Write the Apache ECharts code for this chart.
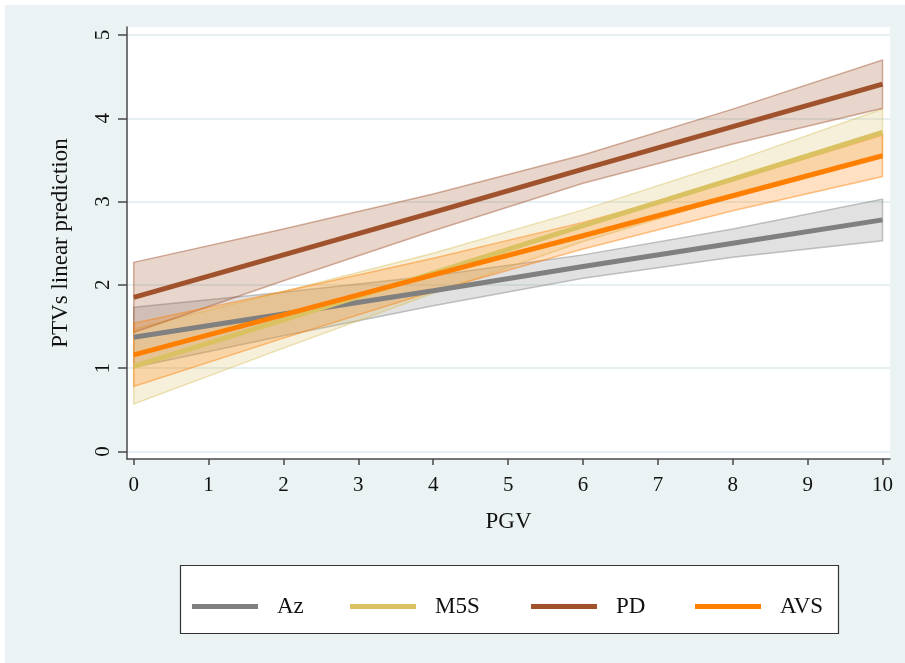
<!DOCTYPE html>
<html>
<head>
<meta charset="utf-8">
<script src="https://cdn.jsdelivr.net/npm/echarts@6/dist/echarts.min.js"></script>
<style>
  html, body { margin: 0; padding: 0; background: #fff; }
  #main { position: absolute; left: 0; top: 0; width: 905px; height: 663px;
          background: #EAF2F3; box-shadow: inset 5px 5px 0 0 #fff; }
</style>
</head>
<body>
<div id="main"></div>
<script>
// ---- data ----
const xVals = [0, 2, 4, 6, 8, 10];
const seriesNames = ['Az', 'M5S', 'PD', 'AVS'];
const xTicks = [0, 1, 2, 3, 4, 5, 6, 7, 8, 9, 10];
const yTicks = [0, 1, 2, 3, 4, 5];

const azFit = [1.37, 1.65, 1.93, 2.22, 2.50, 2.78];
const azLo  = [1.01, 1.39, 1.75, 2.08, 2.33, 2.53];
const azHi  = [1.73, 1.91, 2.11, 2.36, 2.67, 3.03];

const m5sFit = [1.02, 1.58, 2.14, 2.71, 3.27, 3.83];
const m5sLo  = [0.57, 1.24, 1.90, 2.52, 3.06, 3.55];
const m5sHi  = [1.47, 1.92, 2.38, 2.90, 3.48, 4.11];

const pdFit = [1.85, 2.36, 2.87, 3.39, 3.90, 4.41];
const pdLo  = [1.43, 2.05, 2.65, 3.22, 3.69, 4.12];
const pdHi  = [2.27, 2.67, 3.09, 3.56, 4.11, 4.70];

const avsFit = [1.16, 1.64, 2.12, 2.59, 3.07, 3.55];
const avsLo  = [0.78, 1.36, 1.92, 2.43, 2.89, 3.30];
const avsHi  = [1.54, 1.92, 2.32, 2.75, 3.25, 3.80];

// ---- styling ----
const colors = ['#808080', '#DAC263', '#A0522D', '#FF7F00'];
const fits = [azFit, m5sFit, pdFit, avsFit];
const los = [azLo, m5sLo, pdLo, avsLo];
const his = [azHi, m5sHi, pdHi, avsHi];
const FONT = "'Liberation Serif', 'DejaVu Serif', serif";

function rgba(hex, a) {
  const n = parseInt(hex.slice(1), 16);
  return 'rgba(' + ((n >> 16) & 255) + ',' + ((n >> 8) & 255) + ',' + (n & 255) + ',' + a + ')';
}

const series = [];
// confidence bands first
seriesNames.forEach(function (name, k) {
  const lo = los[k], hi = his[k];
  series.push({
    name: name + ' CI',
    type: 'custom',
    z: 2,
    silent: true,
    data: xVals.map(function (x, i) { return [x, lo[i], hi[i]]; }),
    encode: { x: 0, y: [1, 2] },
    renderItem: function (params, api) {
      if (params.dataIndex !== 0) return null;
      const pts = [];
      for (let i = 0; i < xVals.length; i++) pts.push(api.coord([xVals[i], hi[i]]));
      for (let i = xVals.length - 1; i >= 0; i--) pts.push(api.coord([xVals[i], lo[i]]));
      return {
        type: 'polygon',
        shape: { points: pts },
        style: { fill: rgba(colors[k], 0.24), stroke: rgba(colors[k], 0.45), lineWidth: 1.5 }
      };
    }
  });
});
// fitted lines on top
seriesNames.forEach(function (name, k) {
  series.push({
    name: name,
    type: 'line',
    z: 3,
    symbol: 'none',
    silent: true,
    data: xVals.map(function (x, i) { return [x, fits[k][i]]; }),
    lineStyle: { color: colors[k], width: 5 },
    itemStyle: { color: colors[k] }
  });
});

const legendLefts = [192, 350, 531, 695];
const legends = seriesNames.map(function (name, k) {
  return {
    data: [name],
    left: legendLefts[k],
    top: 595,
    padding: 0,
    icon: 'rect',
    itemWidth: 66,
    itemHeight: 5,
    selectedMode: false,
    textStyle: { fontFamily: FONT, fontSize: 23, color: '#111', padding: [3, 0, 0, 14] }
  };
});

const chart = echarts.init(document.getElementById('main'), null, { renderer: 'canvas' });
chart.setOption({
  backgroundColor: 'transparent',
  animation: false,
  color: colors,
  graphic: [{
    type: 'rect',
    z: -1,
    shape: { x: 180.5, y: 565.5, width: 658, height: 68 },
    style: { fill: '#fff', stroke: '#333', lineWidth: 1.2 }
  }],
  legend: legends,
  grid: {
    left: 127, right: 15, top: 27, bottom: 204,
    show: true, backgroundColor: '#fff', borderWidth: 0
  },
  xAxis: {
    type: 'value',
    min: -0.09, max: 10.1,
    name: 'PGV',
    nameLocation: 'middle',
    nameGap: 51,
    nameTextStyle: { fontFamily: FONT, fontSize: 23, color: '#111' },
    axisLine: { show: true, onZero: false, lineStyle: { color: '#4a4a4a', width: 1.5 } },
    axisTick: { show: true, length: 6, customValues: xTicks, lineStyle: { color: '#4a4a4a', width: 1.5 } },
    axisLabel: { customValues: xTicks, margin: 16, fontFamily: FONT, fontSize: 21, color: '#111' },
    splitLine: { show: false }
  },
  yAxis: {
    type: 'value',
    min: -0.091, max: 5.096,
    name: 'PTVs linear prediction',
    nameLocation: 'middle',
    nameGap: 55,
    nameTextStyle: { fontFamily: FONT, fontSize: 23, color: '#111' },
    axisLine: { show: true, onZero: false, lineStyle: { color: '#4a4a4a', width: 1.5 } },
    axisTick: { show: true, length: 9, customValues: yTicks, lineStyle: { color: '#4a4a4a', width: 1.5 } },
    axisLabel: { customValues: yTicks, rotate: 90, margin: 13, fontFamily: FONT, fontSize: 21, color: '#111' },
    splitLine: { show: true, lineStyle: { color: '#E6EFF1', width: 2 } }
  },
  series: series
});
</script>
</body>
</html>
